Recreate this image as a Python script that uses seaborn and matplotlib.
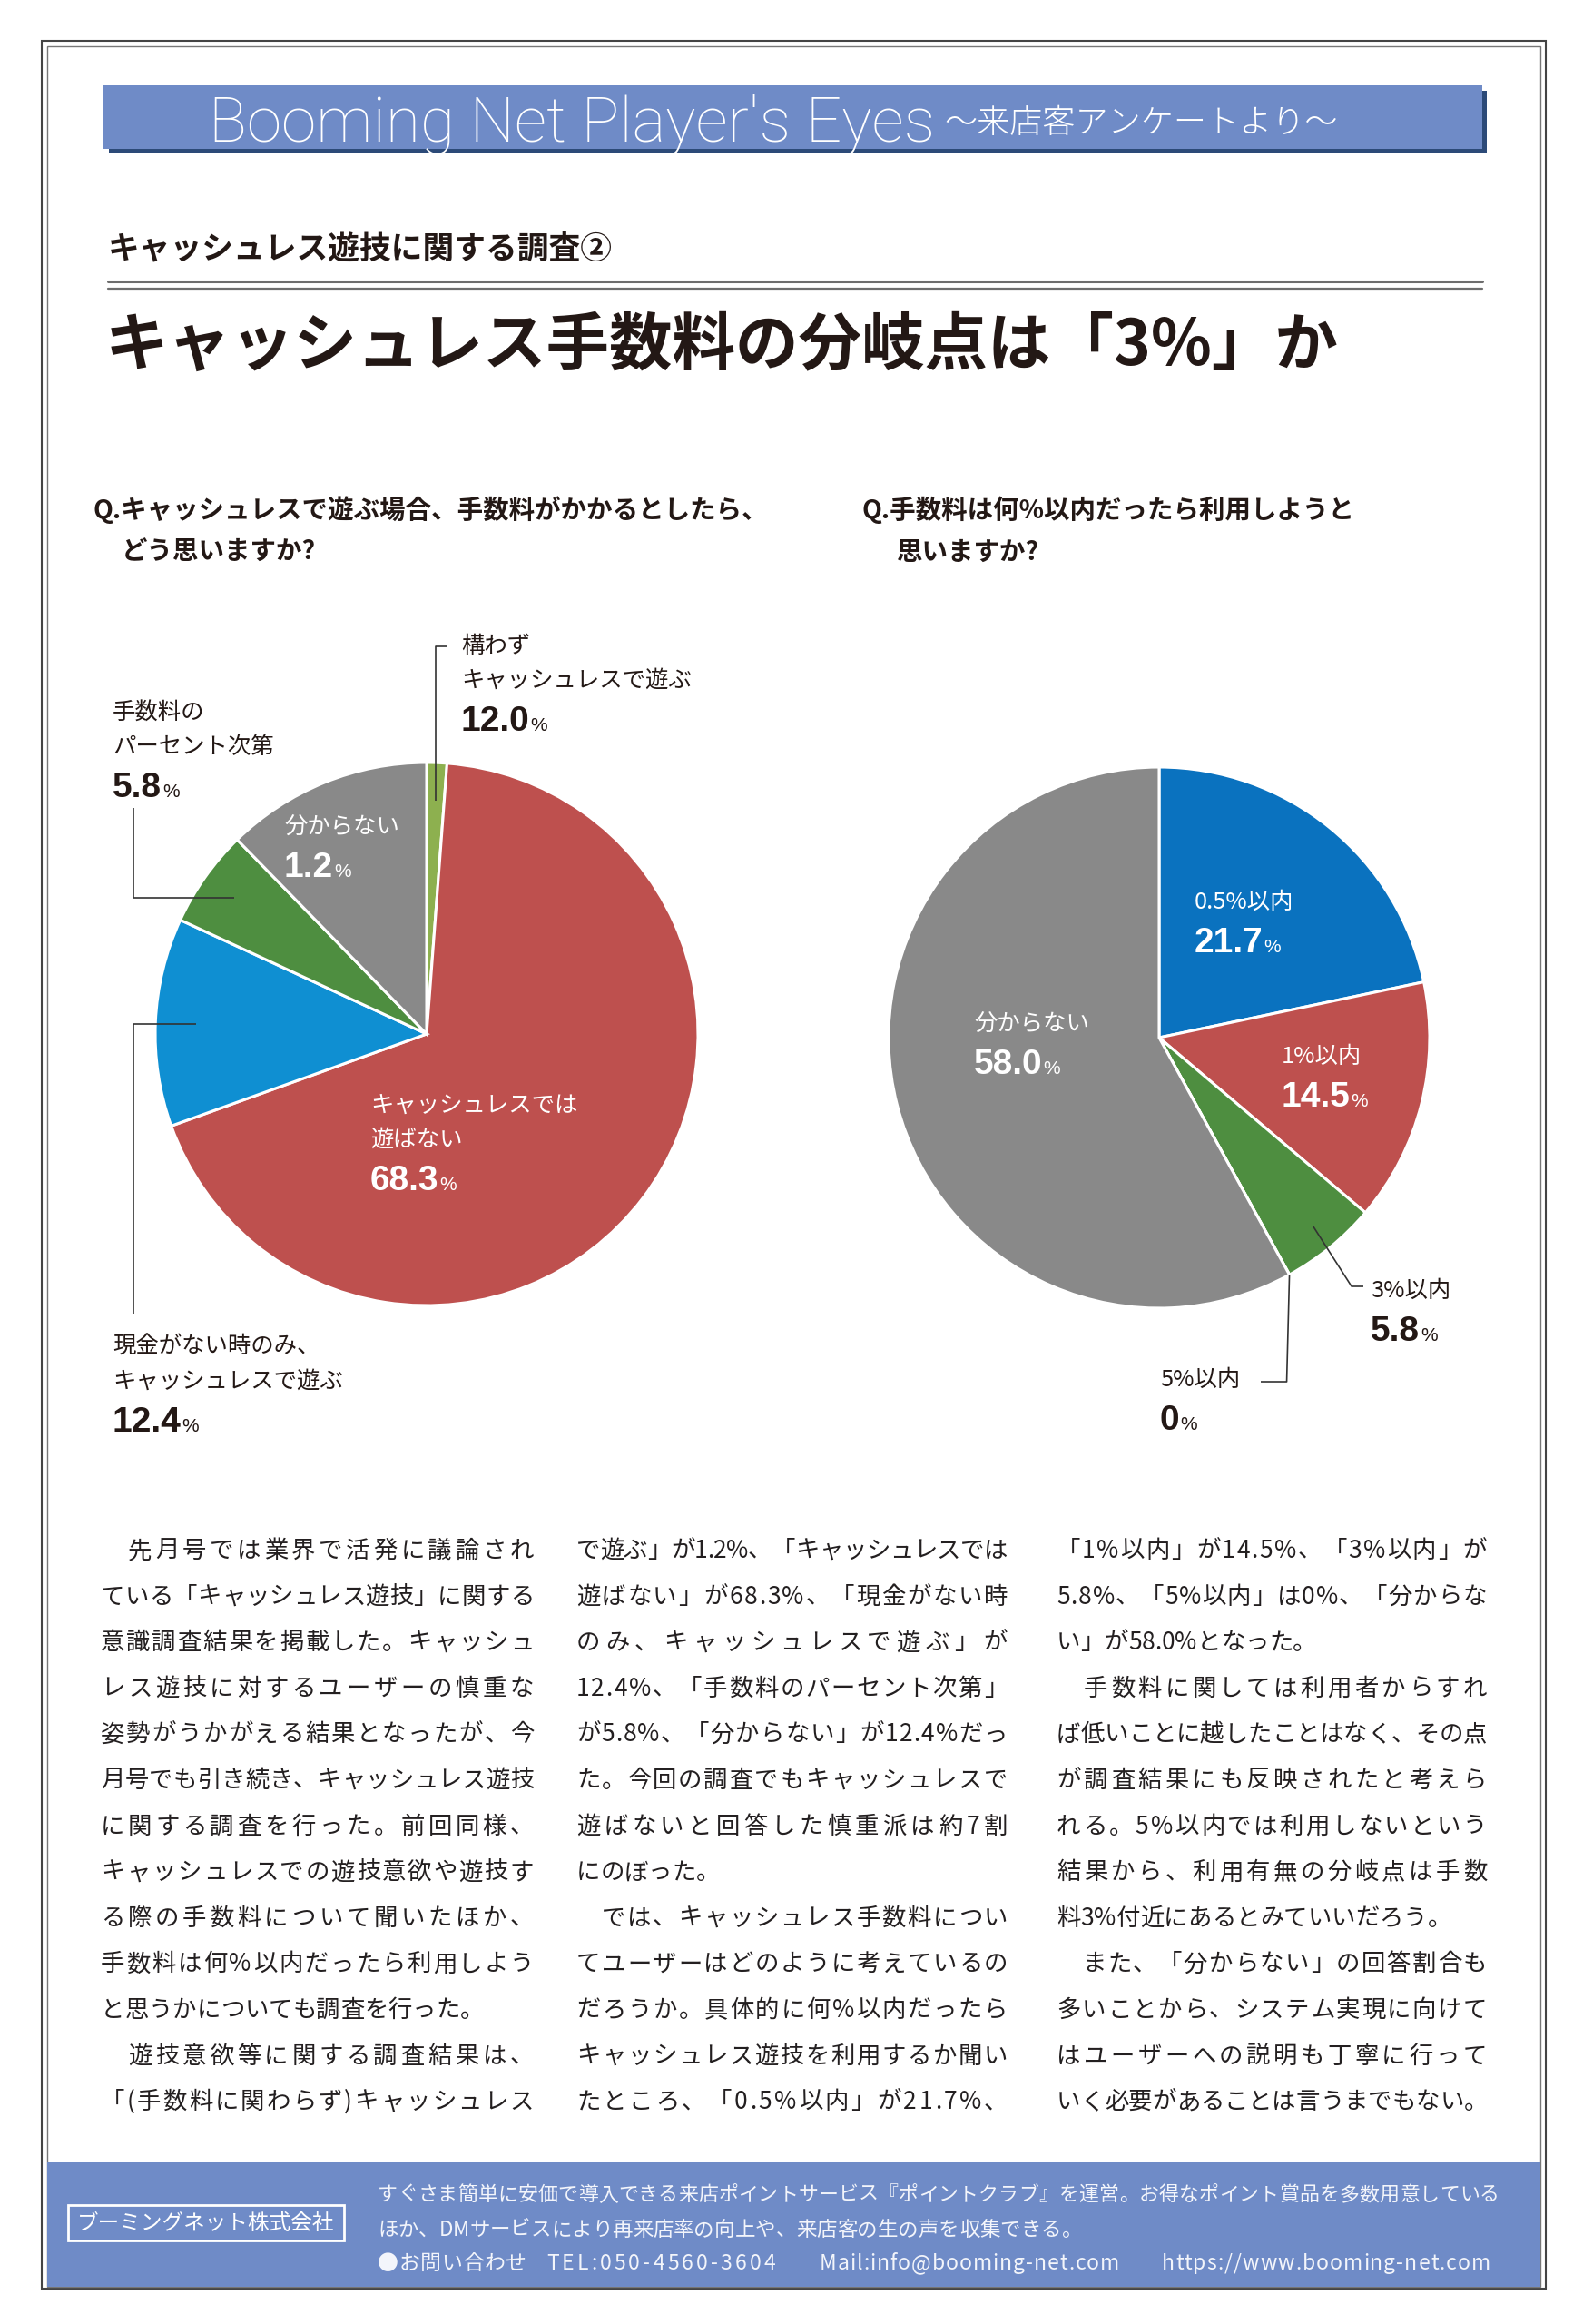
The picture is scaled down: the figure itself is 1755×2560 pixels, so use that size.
import matplotlib
matplotlib.use("Agg")
import matplotlib.pyplot as plt
import seaborn as sns
import numpy as np
from matplotlib.patches import Rectangle
from matplotlib.font_manager import FontProperties, findfont, get_font

# ---------------- data ----------------
left_labels = ["構わず\nキャッシュレスで遊ぶ", "キャッシュレスでは\n遊ばない",
               "現金がない時のみ、\nキャッシュレスで遊ぶ", "手数料の\nパーセント次第", "分からない"]
left_values = [1.2, 68.3, 12.4, 5.8, 12.3]
left_printed = ["12.0", "68.3", "12.4", "5.8", "1.2"]   # as printed on the chart

right_labels = ["0.5%以内", "1%以内", "3%以内", "5%以内", "分からない"]
right_values = [21.7, 14.5, 5.8, 0.0, 58.0]
right_printed = ["21.7", "14.5", "5.8", "0", "58.0"]

col1 = ["　先月号では業界で活発に議論され",
        "ている「キャッシュレス遊技」に関する",
        "意識調査結果を掲載した。キャッシュ",
        "レス遊技に対するユーザーの慎重な",
        "姿勢がうかがえる結果となったが、今",
        "月号でも引き続き、キャッシュレス遊技",
        "に関する調査を行った。前回同様、",
        "キャッシュレスでの遊技意欲や遊技す",
        "る際の手数料について聞いたほか、",
        "手数料は何%以内だったら利用しよう",
        "と思うかについても調査を行った。",
        "　遊技意欲等に関する調査結果は、",
        "「(手数料に関わらず)キャッシュレス"]
col2 = ["で遊ぶ」が1.2%、「キャッシュレスでは",
        "遊ばない」が68.3%、「現金がない時",
        "のみ、キャッシュレスで遊ぶ」が",
        "12.4%、「手数料のパーセント次第」",
        "が5.8%、「分からない」が12.4%だっ",
        "た。今回の調査でもキャッシュレスで",
        "遊ばないと回答した慎重派は約7割",
        "にのぼった。",
        "　では、キャッシュレス手数料につい",
        "てユーザーはどのように考えているの",
        "だろうか。具体的に何%以内だったら",
        "キャッシュレス遊技を利用するか聞い",
        "たところ、「0.5%以内」が21.7%、"]
col3 = ["「1%以内」が14.5%、「3%以内」が",
        "5.8%、「5%以内」は0%、「分からな",
        "い」が58.0%となった。",
        "　手数料に関しては利用者からすれ",
        "ば低いことに越したことはなく、その点",
        "が調査結果にも反映されたと考えら",
        "れる。5%以内では利用しないという",
        "結果から、利用有無の分岐点は手数",
        "料3%付近にあるとみていいだろう。",
        "　また、「分からない」の回答割合も",
        "多いことから、システム実現に向けて",
        "はユーザーへの説明も丁寧に行って",
        "いく必要があることは言うまでもない。"]
col_ends = [{10}, {7}, {2, 8, 12}]

footer_lines = ["すぐさま簡単に安価で導入できる来店ポイントサービス『ポイントクラブ』を運営。お得なポイント賞品を多数用意している",
                "ほか、DMサービスにより再来店率の向上や、来店客の生の声を収集できる。"]
footer_contact = ["●お問い合わせ", "TEL:050-4560-3604", "Mail:info@booming-net.com",
                  "https://www.booming-net.com"]

# ---------------- style ----------------
sns.set_theme(style="white")
plt.rcParams["font.family"] = ["Noto Sans CJK JP", "DejaVu Sans"]

W, H, DPI = 1755, 2560, 100
INK = "#231815"
BAND = "#6f8bc7"
left_colors = sns.color_palette(["#8db04f", "#be504e", "#0f8fd2", "#4e8e40", "#898989"])
right_colors = sns.color_palette(["#0a72bf", "#be504e", "#4e8e40", "#8db04f", "#898989"])

fig = plt.figure(figsize=(W / DPI, H / DPI), dpi=DPI)
fig.patch.set_facecolor("white")


def pie_axes(cx, cy, r):
    return fig.add_axes([(cx - r) / W, 1 - (cy + r) / H, 2 * r / W, 2 * r / H])


def fit(a):
    a.set_xlim(-1, 1)
    a.set_ylim(-1, 1)
    a.set_aspect("equal", adjustable="box")
    a.axis("off")


LCX, LCY, LR = 470, 1139, 299
RCX, RCY, RR = 1277, 1143, 298

axl = pie_axes(LCX, LCY, LR)
lw_, _ = axl.pie(left_values, colors=left_colors, startangle=90, counterclock=False, radius=1,
                 wedgeprops=dict(edgecolor="white", linewidth=2.2))
fit(axl)
axr = pie_axes(RCX, RCY, RR)
rw_, _ = axr.pie(right_values, colors=right_colors, startangle=90, counterclock=False, radius=1,
                 wedgeprops=dict(edgecolor="white", linewidth=2.2))
fit(axr)

# overlay in pixel coordinates
ax = fig.add_axes([0, 0, 1, 1])
ax.set_xlim(0, W)
ax.set_ylim(H, 0)
ax.axis("off")
ax.set_zorder(5)

# frame
ax.add_patch(Rectangle((46, 45), 1657, 2476, fill=False, edgecolor="#444444", lw=1.5))
ax.add_patch(Rectangle((52, 51), 1645, 2468, fill=False, edgecolor="#777777", lw=1.0))

# header banner
ax.add_patch(Rectangle((120, 100), 1518, 68, color="#2c4a78", lw=0))
ax.add_patch(Rectangle((114, 94), 1519, 70, color=BAND, lw=0))
ax.text(230, 155, "Booming Net Player's Eyes", family=["Roboto", "DejaVu Sans"], weight="light",
        fontsize=50, color="white", va="baseline")
ax.text(1040, 146, "～来店客アンケートより～", fontsize=26, weight="light", color="white", va="baseline")

ax.text(119, 274, "キャッシュレス遊技に関する調査②", fontsize=25, weight="bold", color=INK, va="center")
ax.plot([119, 1633], [310, 310], color="#6d6d6d", lw=2.2)
ax.plot([119, 1633], [318, 318], color="#6d6d6d", lw=1.6)
ax.text(116, 382, "キャッシュレス手数料の分岐点は「3%」か", fontsize=50, weight="bold",
        color=INK, va="center")

ax.text(103, 562, "Q.キャッシュレスで遊ぶ場合、手数料がかかるとしたら、", fontsize=20.5,
        weight="bold", color=INK, va="center")
ax.text(134, 609, "どう思いますか?", fontsize=20.5, weight="bold", color=INK, va="center")
ax.text(950, 562, "Q.手数料は何%以内だったら利用しようと", fontsize=20.5, weight="bold",
        color=INK, va="center")
ax.text(988, 609, "思いますか?", fontsize=20.5, weight="bold", color=INK, va="center")


def pt(cx, cy, r, ang, frac):
    t = np.radians(ang)
    return cx + frac * r * np.cos(t), cy - frac * r * np.sin(t)


def mid(w):
    return (w.theta1 + w.theta2) / 2


def slice_label(x, y, text, num, color):
    lines = text.split("\n")
    for k, ln in enumerate(lines):
        ax.text(x, y + 38 * k, ln, fontsize=18.3, color=color, va="center", ha="left")
    ny = y + 38 * (len(lines) - 1) + 41
    t = ax.text(x, ny + 14, num, family=["Liberation Sans", "DejaVu Sans"], weight="bold",
                fontsize=28, color=color, va="baseline", ha="left")
    ax.annotate("%", xy=(1, 0), xycoords=t, xytext=(0.6, 2.6), textcoords="offset points",
                family=["Liberation Sans", "DejaVu Sans"], fontsize=15, color=color,
                va="bottom", ha="left")


LEAD = dict(color="#333333", lw=1.2, solid_capstyle="butt")

# left pie leaders
x0, y0 = pt(LCX, LCY, LR, mid(lw_[0]), 0.86)
ax.plot([x0, x0, x0 + 12], [y0, 712, 712], **LEAD)
x0, y0 = pt(LCX, LCY, LR, mid(lw_[3]), 0.87)
ax.plot([x0, 147, 147], [y0, y0, 890], **LEAD)
x0, y0 = pt(LCX, LCY, LR, mid(lw_[2]), 0.85)
ax.plot([x0, 147, 147], [y0, y0, 1447], **LEAD)

left_pos = [(508, 712, INK), (408, 1218, "white"), (124, 1484, INK), (124, 785, INK),
            (313, 911, "white")]
for lab, num, (x, y, c) in zip(left_labels, left_printed, left_pos):
    slice_label(x, y, lab, num, c)

# right pie leaders
x0, y0 = pt(RCX, RCY, RR, mid(rw_[2]), 0.9)
ax.plot([x0, 1489, 1502], [y0, 1417, 1417], **LEAD)
x0, y0 = pt(RCX, RCY, RR, rw_[3].theta1, 1.0)
ax.plot([x0, x0 - 3, 1389], [y0, 1522, 1522], **LEAD)

right_pos = [(1316, 994, "white"), (1412, 1164, "white"), (1510, 1422, INK), (1278, 1520, INK),
             (1073, 1128, "white")]
for lab, num, (x, y, c) in zip(right_labels, right_printed, right_pos):
    slice_label(x, y, lab, num, c)

# body text, justified character by character
body_prop = FontProperties(family="Noto Sans CJK JP", size=19)
ft = get_font(findfont(body_prop))


def advances(s, size):
    ft.set_size(size, DPI)
    return [ft.load_char(ord(c)).linearHoriAdvance / 65536.0 for c in s]


def set_line(s, xa, xb, yb, size, color, justify=True):
    ws = advances(s, size)
    gap = (xb - xa - sum(ws)) / (len(s) - 1) if justify and len(s) > 1 else 0.0
    x = xa
    for c, w in zip(s, ws):
        ax.text(x, yb, c, family=["Noto Sans CJK JP", "DejaVu Sans"], fontsize=size,
                color=color, ha="left", va="baseline")
        x += w + gap


columns = [(col1, 111, 588), (col2, 635, 1110), (col3, 1164, 1638)]
for (lines, xa, xb), ends in zip(columns, col_ends):
    for i, s in enumerate(lines):
        set_line(s, xa, xb, 1706 + 50.6 * i + 10, 19, "#231f20", justify=i not in ends)

# footer
ax.add_patch(Rectangle((52, 2382), 1645, 137, color=BAND, lw=0))
ax.add_patch(Rectangle((75, 2429), 304, 39, fill=False, edgecolor="white", lw=2))
ax.text(227, 2449, "ブーミングネット株式会社", fontsize=17, color="white", ha="center", va="center")
set_line(footer_lines[0], 416, 1652, 2424, 15.8, "#f3f5fb", justify=True)
set_line(footer_lines[1], 416, 1652, 2463, 16.2, "#f3f5fb", justify=False)
contact_span = [(416, 580), (602, 854), (903, 1233), (1280, 1642)]
for s, (xa, xb) in zip(footer_contact, contact_span):
    set_line(s, xa, xb, 2500, 16.5, "#f3f5fb", justify=True)

fig.savefig("out.png", dpi=DPI)
